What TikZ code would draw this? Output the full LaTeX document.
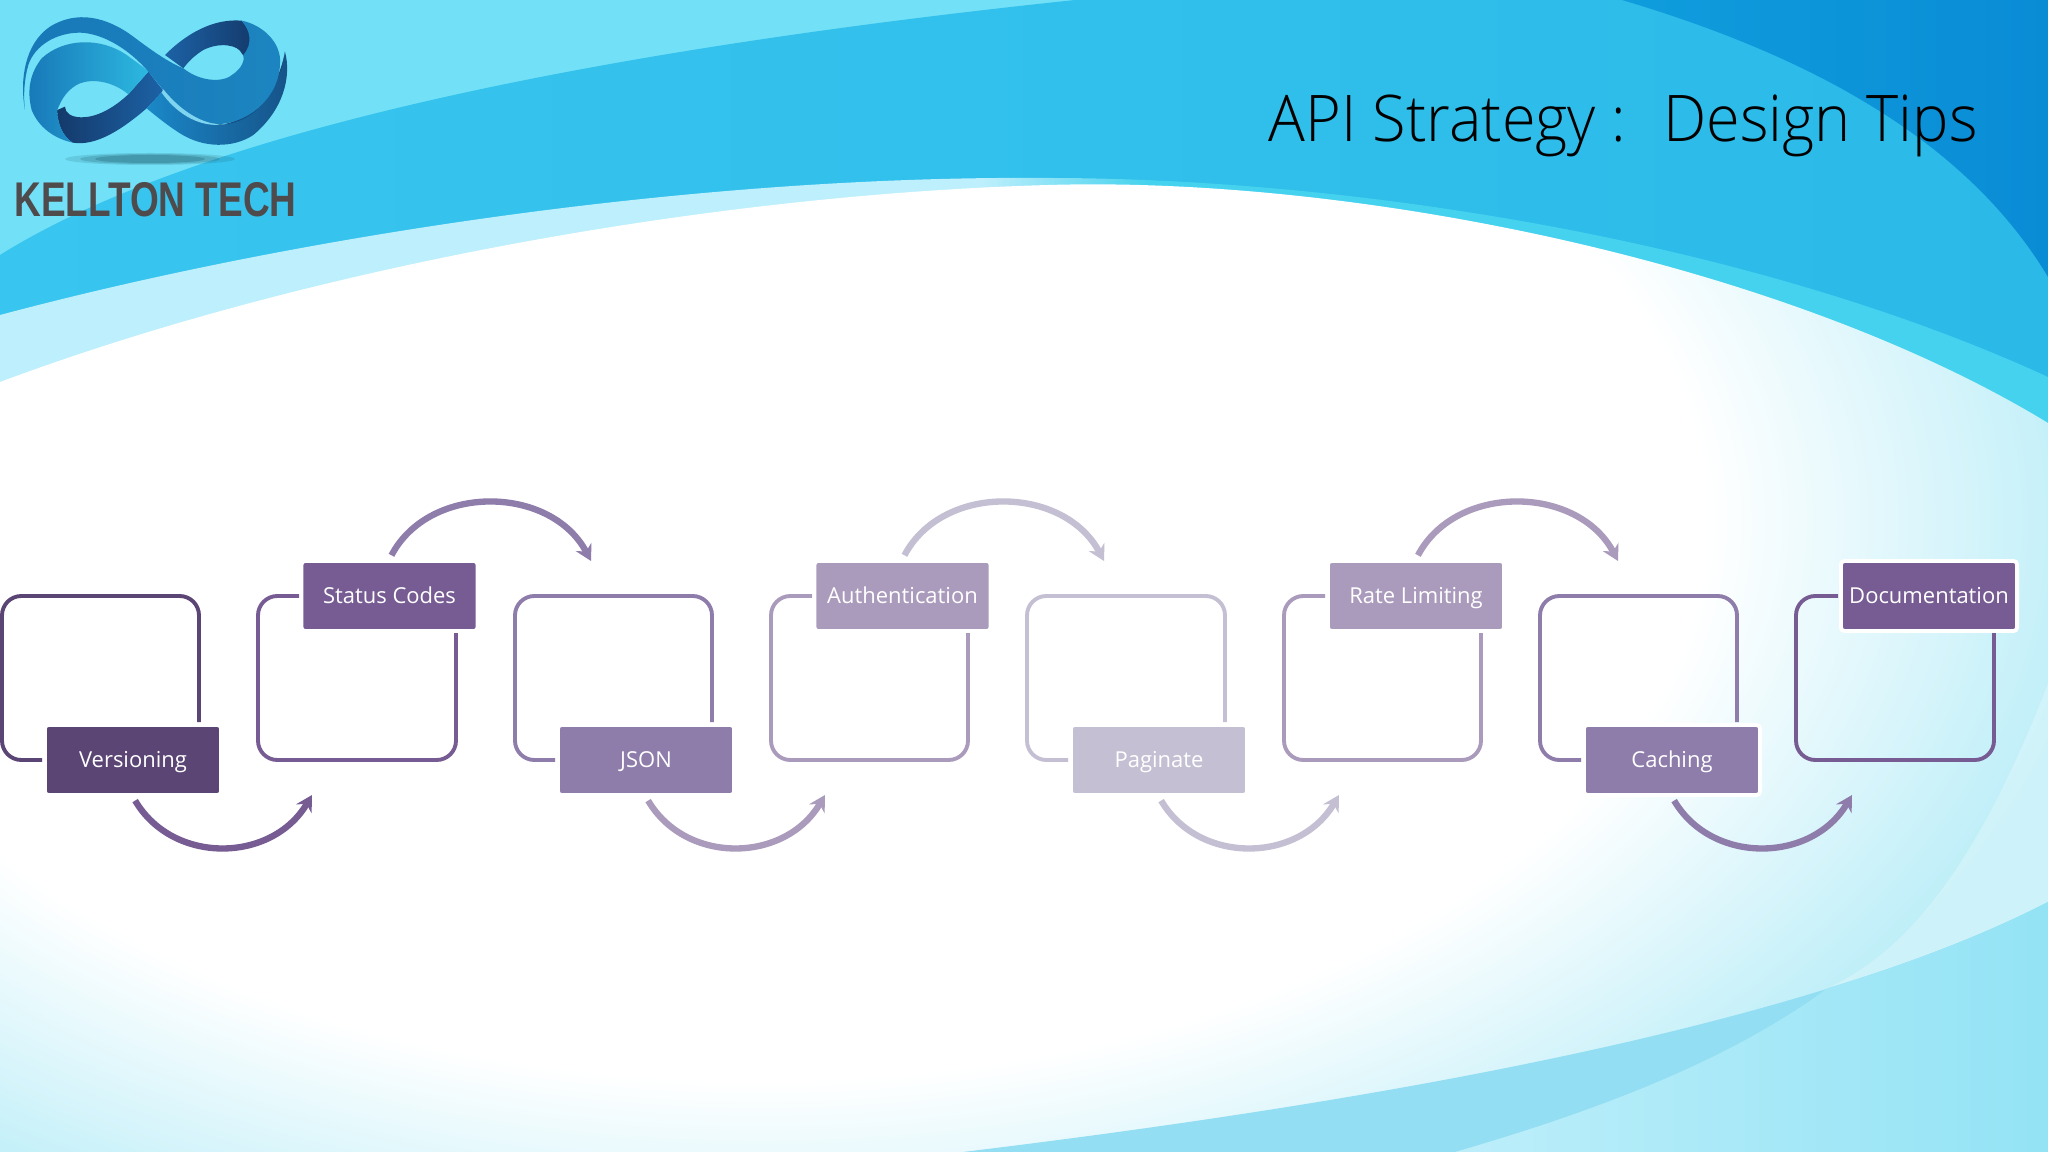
\documentclass[tikz,border=0pt]{standalone}
\usepackage{xcolor}
\usepackage{graphicx}
\usepackage{fontspec}
\usepackage{tikz}
\usetikzlibrary{arrows.meta}
\setmainfont{Open Sans}
\newfontfamily\titlefont{Open Sans Light}
\newfontfamily\logofont{Liberation Sans}
\definecolor{purple1}{HTML}{5B4574}
\definecolor{purple2}{HTML}{765C93}
\definecolor{purple3}{HTML}{8E7CAA}
\definecolor{purple4}{HTML}{AA9BBC}
\definecolor{purple5}{HTML}{C4BFD3}
\definecolor{skypale}{HTML}{72E0F6}
\definecolor{skyband}{HTML}{38C5EF}
\definecolor{skybandb}{HTML}{2BBAE8}
\definecolor{skydeep}{HTML}{0F9DDD}
\definecolor{skydeepb}{HTML}{0A8CD5}
\definecolor{skyfoam}{HTML}{BDEFFC}
\definecolor{skyrim}{HTML}{45D2EE}
\definecolor{skyfade}{HTML}{BDEEF8}
\definecolor{skydusk}{HTML}{93DEF2}
\definecolor{skylow}{HTML}{BDEEFA}
\definecolor{skylowb}{HTML}{93E3F5}
\definecolor{logonavy}{HTML}{143A6B}
\definecolor{logomid}{HTML}{1C62A6}
\definecolor{logoblue}{HTML}{1878B8}
\definecolor{logolight}{HTML}{2CB8E0}
\definecolor{logoedge}{HTML}{1A88C8}
\definecolor{logoline}{HTML}{7FD5F0}
\definecolor{logotext}{HTML}{4F4A4C}
\pgfdeclareradialshading{slidefade}{\pgfpointorigin}{color(0bp)=(white); color(17.5bp)=(white); color(25bp)=(skyfade); color(50bp)=(skyfade)}
\pgfdeclarehorizontalshading{rimfade}{100bp}{color(0bp)=(skyfoam); color(49bp)=(skyfoam); color(53bp)=(skyrim); color(100bp)=(skyrim)}

\begin{document}
\begin{tikzpicture}[x=0.01cm, y=-0.01cm, >=Stealth,
  every node/.style={font=\fontsize{6.25}{8}\selectfont},
  tag/.style={minimum width=1.76cm, minimum height=0.70cm, inner sep=0pt, rounded corners=1pt, draw=white, line width=1.1pt, text=white, text height=5.5pt, text depth=1.5pt},
  frameline/.style={line width=1.1pt, rounded corners=5.5pt},
  curvearrow/.style={-{Stealth[length=4.5pt,width=5pt]}, line width=1.8pt, shorten <=1.2pt}]

  \useasboundingbox (0,0) rectangle (2048,1152);

  % background bands
  \fill[skypale] (0,0) rectangle (2048,1152);
  \shade[left color=skyband, right color=skybandb] (0,255) .. controls (200,130) and (600,50) .. (1075,0) -- (2048,0) -- (2048,600) -- (0,600) -- cycle;
  \shade[left color=skydeep, right color=skydeepb] (1622,0) .. controls (1790,50) and (1960,130) .. (2048,277) -- (2048,0) -- cycle;
  \shade[shading=rimfade] (0,315) .. controls (300,235) and (700,175) .. (1048,178) .. controls (1350,178) and (1750,240) .. (2048,377) -- (2048,1152) -- (0,1152) -- cycle;
  \begin{scope}
    \clip (0,382) .. controls (300,270) and (700,195) .. (1048,185) .. controls (1350,176) and (1780,260) .. (2048,423) -- (2048,1152) -- (0,1152) -- cycle;
    \shade[shading=slidefade] (-590,-280) rectangle (2110,1320);
  \end{scope}
  \fill[white, opacity=0.25] (1828,988) .. controls (1910,950) and (1980,860) .. (2048,683) -- (2048,902) .. controls (1986,934) and (1911,963) .. (1828,988) -- cycle;
  \fill[skydusk] (963,1152) .. controls (1350,1105) and (1800,1030) .. (2048,902) -- (2048,1152) -- cycle;
  \shade[left color=skylow, right color=skylowb] (1455,1152) .. controls (1600,1110) and (1730,1060) .. (1828,988) .. controls (1911,963) and (1986,934) .. (2048,902) -- (2048,1152) -- cycle;

  % logo
  \fill[black!60!skyband, opacity=0.15] (150,159) ellipse (85 and 6);
  \fill[black!60!skyband, opacity=0.2] (150,159) ellipse (70 and 5);
  \fill[black!60!skyband, opacity=0.25] (150,159) ellipse (55 and 4);
  \begin{scope}[scale=1/3]
    \shade[left color=logonavy, right color=logomid] (172,330) .. controls (172,375) and (190,410) .. (218,428) .. controls (290,440) and (370,385) .. (440,325) -- (490,272) -- (445,215) -- (385,283) .. controls (340,325) and (290,352) .. (245,352) .. controls (215,352) and (195,340) .. (195,320) -- cycle;
    \shade[left color=logomid, right color=logonavy] (495,165) .. controls (560,100) and (640,55) .. (725,62) .. controls (750,90) and (765,130) .. (750,190) -- (725,160) .. controls (715,135) and (660,125) .. (610,150) .. controls (585,165) and (565,185) .. (550,205) -- cycle;
    \shade[left color=logoblue, right color=logolight] (95,330) .. controls (80,270) and (90,220) .. (125,175) .. controls (190,115) and (300,110) .. (380,165) .. controls (400,180) and (430,200) .. (445,215) -- (385,283) .. controls (340,245) and (280,235) .. (240,250) .. controls (205,265) and (185,295) .. (172,330) .. controls (172,375) and (190,410) .. (218,428) .. controls (160,415) and (115,380) .. (95,330) -- cycle;
    \shade[left color=logoedge, right color=logonavy!70!logoedge] (440,325) -- (490,272) .. controls (530,330) and (590,375) .. (660,375) .. controls (760,365) and (835,270) .. (855,155) .. controls (875,230) and (850,330) .. (760,405) .. controls (700,445) and (610,445) .. (540,400) .. controls (505,378) and (470,350) .. (440,325) -- cycle;
    \fill[logonavy!80!logoedge] (620,368) .. controls (720,395) and (830,320) .. (855,155) .. controls (835,270) and (760,360) .. (660,375) -- cycle;
    \shade[left color=logoblue, middle color=logolight, right color=logoblue!80!logolight] (75,330) .. controls (58,240) and (75,130) .. (150,80) .. controls (230,30) and (320,50) .. (400,110) .. controls (440,140) and (500,185) .. (550,205) .. controls (600,245) and (670,250) .. (700,222) .. controls (725,205) and (735,180) .. (730,165) .. controls (760,130) and (750,90) .. (725,62) .. controls (790,75) and (845,130) .. (840,190) .. controls (840,280) and (760,365) .. (660,372) .. controls (590,372) and (530,320) .. (490,270) -- (445,215) .. controls (390,150) and (310,100) .. (240,98) .. controls (170,98) and (105,135) .. (85,195) .. controls (72,240) and (70,290) .. (75,330) -- cycle;
    \fill[logoline] (490,268) .. controls (530,318) and (590,368) .. (660,374) .. controls (590,380) and (525,335) .. (485,278) -- cycle;
  \end{scope}
  \node (logolabel) at (155.5,200) {\logofont\color{logotext}\resizebox{2.82cm}{0.34cm}{\bfseries KELLTON TECH}};

  % title
  \node[anchor=base west, inner sep=0pt, font=\titlefont\fontsize{18.3}{22}\selectfont] (title) at (1268,141.5) {\scalebox{0.952}[1]{API Strategy :\ \ \hspace{1.5pt}Design Tips}};

  % frames
  \draw[frameline, purple1] (42,760) -- (2,760) -- (2,596) -- (199,596) -- (199,722);
  \draw[frameline, purple2] (299,596) -- (258,596) -- (258,760) -- (456,760) -- (456,633);
  \draw[frameline, purple3] (555,760) -- (515,760) -- (515,596) -- (712,596) -- (712,722);
  \draw[frameline, purple4] (812,596) -- (771,596) -- (771,760) -- (968,760) -- (968,633);
  \draw[frameline, purple5] (1068,760) -- (1027,760) -- (1027,596) -- (1225,596) -- (1225,722);
  \draw[frameline, purple4] (1325,596) -- (1284,596) -- (1284,760) -- (1481,760) -- (1481,633);
  \draw[frameline, purple3] (1581,760) -- (1540,760) -- (1540,596) -- (1737,596) -- (1737,722);
  \draw[frameline, purple2] (1838,596) -- (1796,596) -- (1796,760) -- (1994,760) -- (1994,633);

  % labels
  \node[tag, fill=purple1] (versioning) at (133,760) {Versioning};
  \node[tag, fill=purple2] (status) at (389.5,596) {Status Codes};
  \node[tag, fill=purple3] (json) at (646,760) {JSON};
  \node[tag, fill=purple4] (auth) at (902.5,596) {Authentication};
  \node[tag, fill=purple5] (paginate) at (1159,760) {Paginate};
  \node[tag, fill=purple4] (rate) at (1416,596) {Rate Limiting};
  \node[tag, fill=purple3] (caching) at (1672,760) {Caching};
  \node[tag, fill=purple2] (docs) at (1929,596) {Documentation};

  % arrow ends
  \coordinate (statusin) at (312,795);
  \coordinate (jsonin) at (591,561);
  \coordinate (authin) at (825,795);
  \coordinate (pagein) at (1104,561);
  \coordinate (ratein) at (1339,795);
  \coordinate (cachein) at (1618,561);
  \coordinate (docsin) at (1852,795);

  \draw[curvearrow, purple2] (versioning.south) .. controls +(40,68) and +(-40,68) .. (statusin);
  \draw[curvearrow, purple3] (status.north) .. controls +(40,-76) and +(-40,-76) .. (jsonin);
  \draw[curvearrow, purple4] (json.south) .. controls +(40,68) and +(-40,68) .. (authin);
  \draw[curvearrow, purple5] (auth.north) .. controls +(40,-76) and +(-40,-76) .. (pagein);
  \draw[curvearrow, purple5] (paginate.south) .. controls +(40,68) and +(-40,68) .. (ratein);
  \draw[curvearrow, purple4] (rate.north) .. controls +(40,-76) and +(-40,-76) .. (cachein);
  \draw[curvearrow, purple3] (caching.south) .. controls +(40,68) and +(-40,68) .. (docsin);

\end{tikzpicture}
\end{document}
